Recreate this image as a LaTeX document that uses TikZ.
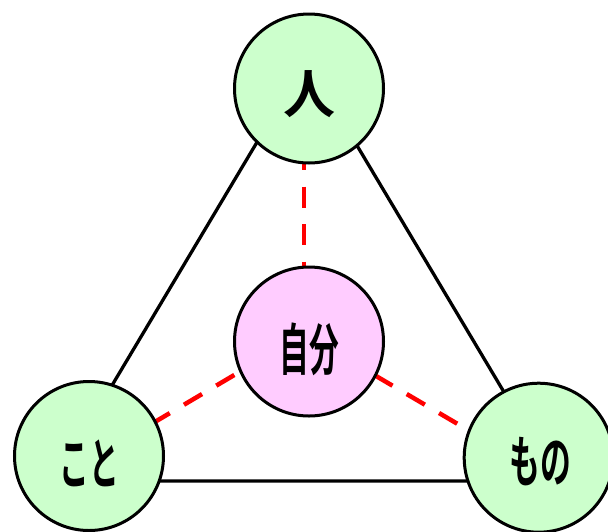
\documentclass[tikz,border=0pt]{standalone}
\usepackage{fontspec}
\newfontfamily\jp{Noto Sans CJK JP Bold}
\definecolor{lgreen}{HTML}{CCFFCC}
\definecolor{lpink}{HTML}{FFCCFF}
\begin{document}
\begin{tikzpicture}[x=1pt,y=-1pt,
  ball/.style={circle, draw=black, line width=3pt, minimum size=149pt, inner sep=0pt},
  outer/.style={ball, fill=lgreen},
  self/.style={ball, fill=lpink},
  lab/.style={font=\jp\fontsize{56}{56}\selectfont, inner sep=0pt},
  edge/.style={draw=black, line width=3.3pt},
  link/.style={draw=red, line width=4.5pt, dash pattern=on 21pt off 16.5pt}]
\useasboundingbox (0,0) rectangle (608,531);
\clip (0,0) rectangle (608,531);
% triangle
\coordinate (ta) at (306,60);
\coordinate (tl) at (55,481);
\coordinate (tr) at (557,481);
\draw[edge] (ta) -- (tl) -- (tr) -- cycle;
% dashed links
\coordinate (d1a) at (304,149);
\coordinate (d1b) at (304,320);
\coordinate (d2a) at (298.9,336.8);
\coordinate (d2b) at (79.3,466.6);
\coordinate (d3a) at (342.05,356.05);
\coordinate (d3b) at (544.6,475);
\draw[link] (d1a) -- (d1b);
\draw[link] (d2a) -- (d2b);
\draw[link] (d3a) -- (d3b);
% circles
\node[outer] (hito) at (309,88.5) {};
\node[self] (jibun) at (309,341.5) {};
\node[outer] (koto) at (89,456) {};
\node[outer] (mono) at (538.7,457.7) {};
% labels
\node[lab, font=\jp\fontsize{52}{52}\selectfont] (lhito) at ([yshift=-6pt]hito.center) {人};
\node[lab] (ljibun) at ([yshift=-7.5pt]jibun.center) {\scalebox{0.53}[1]{自分}};
\node[lab] (lkoto) at ([yshift=-7.5pt]koto.center) {\scalebox{0.53}[1]{こと}};
\node[lab] (lmono) at ([xshift=2pt,yshift=-4pt]mono.center) {\scalebox{0.55}[1]{もの}};
\end{tikzpicture}
\end{document}
